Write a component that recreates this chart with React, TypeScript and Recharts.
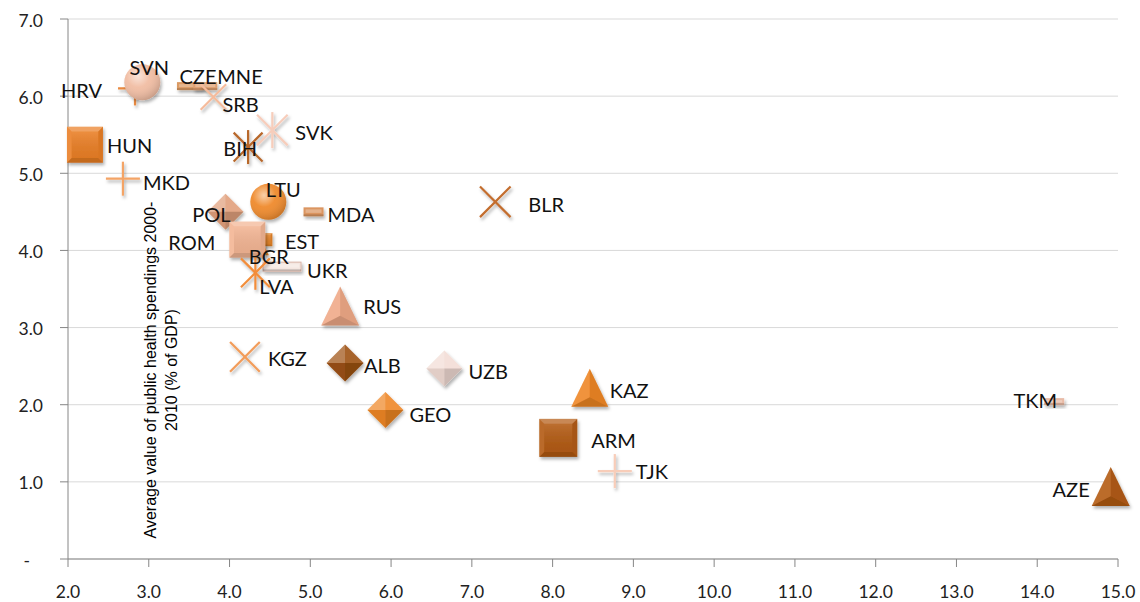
import React from 'react'
import { ScatterChart, Scatter, XAxis, YAxis, CartesianGrid } from 'recharts'

// country codes, drawn in this order (later ones sit on top)
const countries = [
  'HRV', 'SVN', 'CZE', 'MNE', 'SRB', 'HUN', 'MKD', 'BIH', 'SVK', 'LTU',
  'POL', 'EST', 'BGR', 'ROM', 'MDA', 'UKR', 'LVA', 'RUS', 'KGZ', 'ALB',
  'GEO', 'UZB', 'KAZ', 'ARM', 'TJK', 'BLR', 'TKM', 'AZE',
]
const xValues = [
  2.83, 2.92, 3.51, 3.7, 3.8, 2.21, 2.68, 4.23, 4.53, 4.48,
  3.95, 4.45, 4.4, 4.22, 5.04, 4.65, 4.32, 5.37, 4.19, 5.43,
  5.93, 6.66, 8.46, 8.07, 8.77, 7.29, 14.21, 14.91,
]
const healthSpending = [
  6.1, 6.18, 6.13, 6.13, 5.99, 5.37, 4.93, 5.34, 5.56, 4.63,
  4.5, 4.14, 4.03, 4.14, 4.5, 3.79, 3.71, 3.28, 2.62, 2.54,
  1.93, 2.47, 2.22, 1.57, 1.14, 4.63, 2.04, 0.94,
]
const xTicks = [2, 3, 4, 5, 6, 7, 8, 9, 10, 11, 12, 13, 14, 15]
const yTicks = [0, 1, 2, 3, 4, 5, 6, 7]
const yTitle = ['Average value of public health spendings 2000-', '2010 (% of GDP)']

type Kind = 'square' | 'circle' | 'diamond' | 'triangle' | 'x' | 'plus' | 'star' | 'bar'
type MarkerStyle = { kind: Kind; color: string; s: number; h?: number }

const markers: Record<string, MarkerStyle> = {
  HRV: { kind: 'plus', color: '#E9893F', s: 34 },
  SVN: { kind: 'circle', color: '#F1BDA3', s: 36 },
  CZE: { kind: 'bar', color: '#DA9A64', s: 26, h: 8 },
  MNE: { kind: 'bar', color: '#E0A070', s: 24, h: 8 },
  SRB: { kind: 'x', color: '#F5BB9C', s: 30 },
  HUN: { kind: 'square', color: '#EA7F26', s: 36 },
  MKD: { kind: 'plus', color: '#F4A466', s: 34 },
  BIH: { kind: 'star', color: '#B8682C', s: 34 },
  SVK: { kind: 'star', color: '#F7CDBB', s: 36 },
  LTU: { kind: 'circle', color: '#EF8A2C', s: 36 },
  POL: { kind: 'diamond', color: '#E1A07C', s: 36 },
  EST: { kind: 'square', color: '#E48429', s: 13 },
  BGR: { kind: 'triangle', color: '#E48429', s: 14 },
  ROM: { kind: 'square', color: '#F3B594', s: 36 },
  MDA: { kind: 'bar', color: '#DB9560', s: 20, h: 9 },
  UKR: { kind: 'bar', color: '#F4E6E0', s: 38, h: 9 },
  LVA: { kind: 'star', color: '#F28D3A', s: 34 },
  RUS: { kind: 'triangle', color: '#F0AA88', s: 38 },
  KGZ: { kind: 'x', color: '#F29C5A', s: 35 },
  ALB: { kind: 'diamond', color: '#9E5214', s: 37 },
  GEO: { kind: 'diamond', color: '#EF8726', s: 36 },
  UZB: { kind: 'diamond', color: '#F3DDD6', s: 36 },
  KAZ: { kind: 'triangle', color: '#EF8726', s: 37 },
  ARM: { kind: 'square', color: '#B35B14', s: 38 },
  TJK: { kind: 'plus', color: '#F8CDB9', s: 34 },
  BLR: { kind: 'x', color: '#C36D2E', s: 36 },
  TKM: { kind: 'bar', color: '#E9BBA6', s: 20, h: 7 },
  AZE: { kind: 'triangle', color: '#B45C15', s: 38 },
}

// [text-anchor, dx, dy] of each data label, relative to its marker
const labelPlace: Record<string, [string, number, number]> = {
  HRV: ['end', -33, 2], SVN: ['middle', 7, -15], CZE: ['middle', 8, -10],
  MNE: ['start', 12, -10], SRB: ['start', 9, 7], HUN: ['start', 22, 0],
  MKD: ['start', 20, 3], SVK: ['start', 23, 2], BIH: ['middle', -8, 1],
  LTU: ['middle', 15, -13], POL: ['middle', -14, 2], MDA: ['start', 14, 2],
  ROM: ['end', -32, 2], EST: ['start', 19, 1], BGR: ['middle', 7, 8],
  UKR: ['start', 25, 3], LVA: ['middle', 21, 13], RUS: ['start', 23, 0],
  KGZ: ['start', 23, 1], ALB: ['start', 19, 2], GEO: ['start', 24, 4],
  UZB: ['start', 24, 3], KAZ: ['start', 20, 2], ARM: ['start', 33, 2],
  TJK: ['start', 21, 0], BLR: ['start', 33, 2], TKM: ['end', 3, -2],
  AZE: ['end', -21, 3],
}

const points = countries.map((name, i) => ({ name, x: xValues[i], y: healthSpending[i] }))

const pts = (a: number[][]) => a.map((p) => p.join(',')).join(' ')
const LIGHT = 'rgba(255,255,255,0.28)'
const LIGHT2 = 'rgba(255,255,255,0.1)'
const DARK = 'rgba(0,0,0,0.16)'
const DARK2 = 'rgba(0,0,0,0.07)'

function Marker(props: any) {
  const { cx, cy, payload } = props
  const m = markers[payload.name]
  if (!m || cx == null) return null
  const h = m.s / 2
  const c = m.color
  if (m.kind === 'square') {
    const b = m.s * 0.13
    const x0 = cx - h, y0 = cy - h, x1 = cx + h, y1 = cy + h
    return (
      <g filter="url(#mkShadow)">
        <rect x={x0} y={y0} width={m.s} height={m.s} fill={c} />
        <rect x={x0 + b} y={y0 + b} width={m.s - 2 * b} height={m.s - 2 * b} fill="url(#faceShade)" />
        <polygon points={pts([[x0, y0], [x1, y0], [x1 - b, y0 + b], [x0 + b, y0 + b]])} fill={LIGHT} />
        <polygon points={pts([[x0, y0], [x0 + b, y0 + b], [x0 + b, y1 - b], [x0, y1]])} fill={LIGHT2} />
        <polygon points={pts([[x1, y0], [x1, y1], [x1 - b, y1 - b], [x1 - b, y0 + b]])} fill={DARK2} />
        <polygon points={pts([[x0, y1], [x1, y1], [x1 - b, y1 - b], [x0 + b, y1 - b]])} fill={DARK} />
      </g>
    )
  }
  if (m.kind === 'diamond') {
    const T = [cx, cy - h], R = [cx + h, cy], B = [cx, cy + h], L = [cx - h, cy], C = [cx, cy]
    return (
      <g filter="url(#mkShadow)">
        <polygon points={pts([T, R, B, L])} fill={c} />
        <polygon points={pts([T, C, L])} fill={LIGHT} />
        <polygon points={pts([T, R, C])} fill={LIGHT2} />
        <polygon points={pts([R, B, C])} fill={DARK} />
        <polygon points={pts([B, L, C])} fill={DARK2} />
      </g>
    )
  }
  if (m.kind === 'triangle') {
    const H = m.s * 1.03
    const A = [cx, cy - H / 2], BL = [cx - h, cy + H / 2], BR = [cx + h, cy + H / 2], C = [cx, cy + H / 4]
    return (
      <g filter="url(#mkShadow)">
        <polygon points={pts([A, BR, BL])} fill={c} />
        <polygon points={pts([A, C, BL])} fill={LIGHT2} />
        <polygon points={pts([A, BR, C])} fill={DARK2} />
        <polygon points={pts([BL, BR, C])} fill={DARK} />
      </g>
    )
  }
  if (m.kind === 'circle') {
    return (
      <g filter="url(#mkShadow)">
        <circle cx={cx} cy={cy} r={h} fill={c} />
        <circle cx={cx} cy={cy} r={h} fill="url(#ballShine)" />
      </g>
    )
  }
  if (m.kind === 'bar') {
    const bh = m.h ?? 8
    return (
      <g filter="url(#mkShadow)">
        <rect x={cx - h} y={cy - bh / 2} width={m.s} height={bh} fill={c} stroke={payload.name === 'UKR' ? '#D9B5A8' : 'none'} strokeWidth={1} />
        <rect x={cx - h + 2} y={cy - bh / 2 + 2} width={m.s - 4} height={bh / 2 - 1} fill={LIGHT} />
        <rect x={cx - h} y={cy + bh / 2 - 2} width={m.s} height={2} fill={DARK} />
      </g>
    )
  }
  const d = m.kind === 'x' || m.kind === 'star' ? h * 0.85 : h
  const lines: number[][] = []
  if (m.kind === 'x' || m.kind === 'star') {
    lines.push([cx - d, cy - d, cx + d, cy + d], [cx - d, cy + d, cx + d, cy - d])
  }
  if (m.kind === 'plus') {
    lines.push([cx - h, cy, cx + h, cy], [cx, cy - h, cx, cy + h])
  }
  if (m.kind === 'star') {
    lines.push([cx, cy - h, cx, cy + h])
  }
  return (
    <g filter="url(#mkShadow)">
      {lines.map((l, i) => (
        <line key={i} x1={l[0]} y1={l[1]} x2={l[2]} y2={l[3]} stroke={c} strokeWidth={2.2} />
      ))}
    </g>
  )
}

function Label(props: any) {
  const { cx, cy, payload } = props
  const p = labelPlace[payload.name]
  if (!p || cx == null) return null
  return (
    <text
      x={cx + p[1]}
      y={cy + p[2]}
      textAnchor={p[0] as any}
      dominantBaseline="central"
      fontFamily="Lato, sans-serif"
      fontSize={20}
      fill="#111"
    >
      {payload.name}
    </text>
  )
}

function XTick({ x, y, payload }: any) {
  return (
    <text x={x} y={y + 31} textAnchor="middle" fontFamily="Lato, sans-serif" fontSize={17.5} fill="#222">
      {payload.value.toFixed(1)}
    </text>
  )
}

function YTick({ x, y, payload }: any) {
  const v = payload.value
  return (
    <text
      x={v === 0 ? x - 30 : x - 17}
      y={y + 1}
      textAnchor="end"
      dominantBaseline="central"
      fontFamily="Lato, sans-serif"
      fontSize={17.5}
      fill="#222"
    >
      {v === 0 ? '-' : v.toFixed(1)}
    </text>
  )
}

export default function App() {
  return (
    <div style={{ position: 'absolute', left: 0, top: 0, width: 1140, height: 602, background: '#fff' }}>
      <ScatterChart width={1140} height={602} margin={{ top: 19, right: 22, bottom: 0, left: 0 }}>
        <CartesianGrid vertical={false} stroke="#D9D9D9" />
        <XAxis
          type="number"
          dataKey="x"
          domain={[2, 15]}
          ticks={xTicks}
          interval={0}
          height={43}
          stroke="#868686"
          tickSize={8}
          tickMargin={0}
          tick={<XTick />}
        />
        <YAxis
          type="number"
          dataKey="y"
          domain={[0, 7]}
          ticks={yTicks}
          interval={0}
          width={68}
          stroke="#868686"
          tickSize={8}
          tickMargin={0}
          tick={<YTick />}
        />
        <Scatter data={points} shape={<Marker />} isAnimationActive={false} />
        <Scatter data={points} shape={<Label />} isAnimationActive={false} />
      </ScatterChart>
      <svg width={1140} height={602} style={{ position: 'absolute', left: 0, top: 0, pointerEvents: 'none' }}>
        <defs>
          <filter id="mkShadow" x="-50%" y="-50%" width="200%" height="200%">
            <feDropShadow dx={1.5} dy={2.5} stdDeviation={1.5} floodColor="#000" floodOpacity={0.3} />
          </filter>
          <radialGradient id="ballShine" cx="38%" cy="32%" r="72%">
            <stop offset="0%" stopColor="#fff" stopOpacity={0.6} />
            <stop offset="45%" stopColor="#fff" stopOpacity={0.05} />
            <stop offset="100%" stopColor="#000" stopOpacity={0.18} />
          </radialGradient>
          <linearGradient id="faceShade" x1="0" y1="0" x2="0" y2="1">
            <stop offset="0%" stopColor="#fff" stopOpacity={0.12} />
            <stop offset="100%" stopColor="#000" stopOpacity={0.06} />
          </linearGradient>
        </defs>
        <g transform="translate(150,370) rotate(-90)" fontFamily="'Liberation Sans', Arial, sans-serif" fontSize={16} fill="#000">
          <text x={0} y={0} textAnchor="middle" dominantBaseline="central">{yTitle[0]}</text>
          <text x={0} y={21} textAnchor="middle" dominantBaseline="central">{yTitle[1]}</text>
        </g>
      </svg>
    </div>
  )
}
